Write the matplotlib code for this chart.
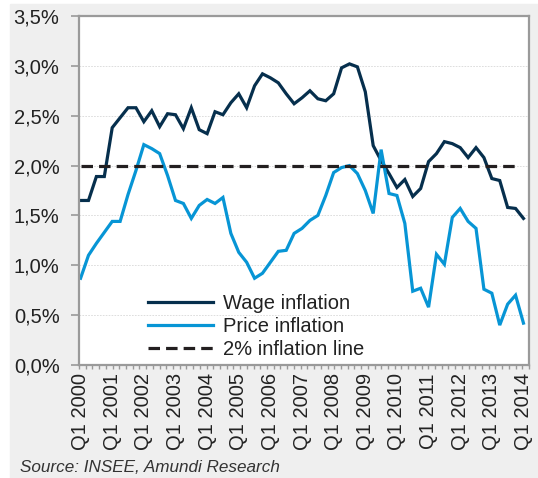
import numpy as np
import matplotlib
matplotlib.use("Agg")
import matplotlib.pyplot as plt
from matplotlib.patches import Rectangle

# quarterly, Q1 2000 .. Q1 2014
wage = [1.65, 1.65, 1.89, 1.89, 2.38, 2.48, 2.58, 2.58, 2.44, 2.55,
        2.39, 2.52, 2.51, 2.37, 2.58, 2.36, 2.32, 2.54, 2.51, 2.63,
        2.72, 2.58, 2.80, 2.92, 2.88, 2.83, 2.72, 2.62, 2.68, 2.75,
        2.67, 2.65, 2.72, 2.98, 3.02, 2.99, 2.74, 2.20, 2.05, 1.92,
        1.78, 1.86, 1.69, 1.77, 2.04, 2.12, 2.24, 2.22, 2.18, 2.08,
        2.18, 2.08, 1.87, 1.85, 1.58, 1.57, 1.47]
price = [0.87, 1.10, 1.22, 1.33, 1.44, 1.44, 1.71, 1.95, 2.21, 2.17,
         2.12, 1.90, 1.65, 1.62, 1.47, 1.60, 1.66, 1.62, 1.68, 1.32,
         1.13, 1.03, 0.87, 0.92, 1.03, 1.14, 1.15, 1.32, 1.37, 1.45,
         1.50, 1.70, 1.93, 1.98, 2.00, 1.92, 1.75, 1.52, 2.16, 1.72,
         1.70, 1.42, 0.74, 0.77, 0.58, 1.11, 1.01, 1.48, 1.57, 1.44,
         1.37, 0.76, 0.72, 0.40, 0.61, 0.70, 0.42]
target = [2.0] * 56

years = list(range(2000, 2015))
xlabels = ["Q1 %d" % y for y in years]
yticks = [0.0, 0.5, 1.0, 1.5, 2.0, 2.5, 3.0, 3.5]
ylabels = ["0,0%", "0,5%", "1,0%", "1,5%", "2,0%", "2,5%", "3,0%", "3,5%"]

plt.rcParams['font.family'] = ['Liberation Sans', 'DejaVu Sans']

W, H = 538, 478
fig = plt.figure(figsize=(W / 100, H / 100), dpi=100, facecolor='white')
fig.patches.append(Rectangle((10 / W, 0), 1 - 10 / W, 1 - 4 / H,
                             transform=fig.transFigure, color='#efefef', zorder=-10))

ax = fig.add_axes([79 / W, 1 - 365 / H, (529 - 79) / W, (365 - 16) / H])
ax.set_facecolor('white')

ax.plot(range(len(wage)), wage, color='#062f4d', lw=2.3, label='Wage inflation', solid_joinstyle='miter')
ax.plot(range(len(price)), price, color='#0795d5', lw=2.3, label='Price inflation', solid_joinstyle='miter')
ax.plot(range(len(target)), target, color='#231f20', lw=2.3, dashes=(3.6, 1.9),
        label='2% inflation line')

ax.set_xlim(-0.2, 56.7)
ax.set_ylim(0, 3.5)

ax.set_yticks(yticks)
ax.set_yticklabels(ylabels)
ax.set_xticks([4 * k for k in range(len(years))])
ax.set_xticklabels(xlabels, rotation=90)
ax.set_xticks(np.linspace(-0.2, 56.7, 68), minor=True)

ax.tick_params(axis='y', direction='out', length=6, width=1.2, color='#999999',
               labelsize=14.5, labelcolor='#222222', pad=8)
ax.tick_params(axis='x', which='major', length=0, labelsize=14.5,
               labelcolor='#222222', pad=6)
ax.tick_params(axis='x', which='minor', direction='out', length=3, width=1, color='#999999')

for s in ax.spines.values():
    s.set_color('#9a9a9a')
    s.set_linewidth(1.6)

for v in yticks[1:-1]:
    ax.axhline(v, color='#d8d8d8', lw=0.6, ls=(0, (2, 1.5)), zorder=0)

ax.legend(loc='upper left', bbox_to_anchor=(148 / W, 1 - 294 / H),
          bbox_transform=fig.transFigure, frameon=False, fontsize=14.5,
          handlelength=3.25, handletextpad=0.45, labelspacing=0.2,
          borderpad=0, borderaxespad=0, labelcolor='#222222')

fig.text(20 / W, 1 - 467 / H, "Source: INSEE, Amundi Research", fontsize=12.3,
         style='italic', color='#333333', va='center', ha='left')

fig.savefig('out.png', dpi=100, facecolor='white')
